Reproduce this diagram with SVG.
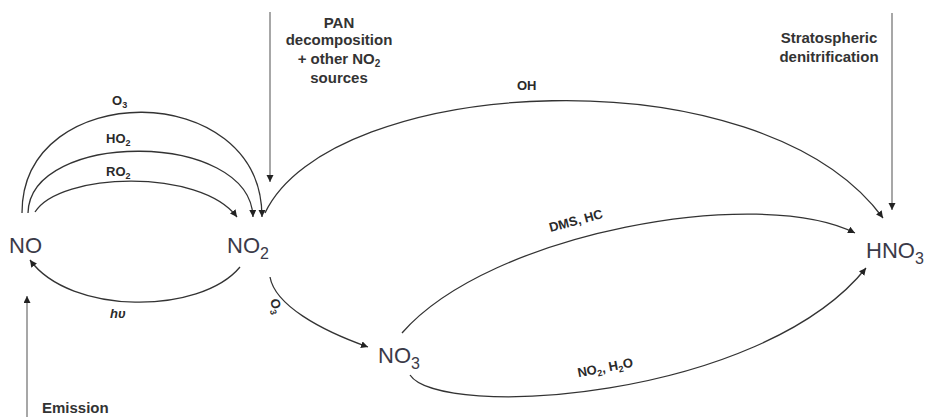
<svg xmlns="http://www.w3.org/2000/svg" width="927" height="417" viewBox="0 0 927 417">
<style>
.sp{font-family:"Liberation Sans",Arial,sans-serif;font-size:22px;fill:#3a3a48}
.lb{font-family:"Liberation Sans",Arial,sans-serif;font-weight:bold;font-size:13px;fill:#2a2a2a}
.src{font-family:"Liberation Sans",Arial,sans-serif;font-weight:bold;font-size:15px;fill:#333}
.ar{fill:none;stroke:#333;stroke-width:1.3}
.in{fill:none;stroke:#8a8a8a;stroke-width:1.5}
</style>
<defs>
<marker id="ah" markerWidth="8" markerHeight="8" refX="7" refY="3.5" orient="auto" markerUnits="userSpaceOnUse">
<path d="M0,0 L7,3.5 L0,7 Z" fill="#222"/>
</marker>
</defs>
<rect width="927" height="417" fill="#fff"/>
<g id="connectors">
<path class="ar" d="M22,213 C22,78 262,78 262,217" marker-end="url(#ah)"/>
<path class="ar" d="M28,213 C30,130 250,130 253,217" marker-end="url(#ah)"/>
<path class="ar" d="M35,212 C60,172 200,168 237,217" marker-end="url(#ah)"/>
<path class="ar" d="M265,213 C330,75 760,50 883,218" marker-end="url(#ah)"/>
<path class="ar" d="M240,267 C200,315 70,315 30,260" marker-end="url(#ah)"/>
<path class="ar" d="M270,277 C275,305 320,330 368,347" marker-end="url(#ah)"/>
<path class="ar" d="M402,333 C490,232 760,185 855,233" marker-end="url(#ah)"/>
<path class="ar" d="M410,375 C440,420 760,400 866,268" marker-end="url(#ah)"/>
<path class="in" d="M270,12 L270,182" marker-end="url(#ah)"/>
<path class="in" d="M892,13 L892,210" marker-end="url(#ah)"/>
<path class="in" d="M27,417 L27,296" marker-end="url(#ah)"/>
<text class="lb" x="112" y="105">O<tspan font-size="9" dy="3">3</tspan></text>
<text class="lb" x="106" y="143">HO<tspan font-size="9" dy="3">2</tspan></text>
<text class="lb" x="106" y="176">RO<tspan font-size="9" dy="3">2</tspan></text>
<text class="lb" x="517" y="90">OH</text>
<text class="lb" font-style="italic" font-weight="normal" font-size="14" x="110" y="318">hυ</text>
<text class="lb" transform="translate(270,300) rotate(75)">O<tspan font-size="9" dy="3">3</tspan></text>
<text class="lb" text-anchor="middle" transform="translate(577,225) rotate(-15)">DMS, HC</text>
<text class="lb" text-anchor="middle" transform="translate(606,372) rotate(-11)">NO<tspan font-size="9" dy="3">2</tspan><tspan dy="-3">, H</tspan><tspan font-size="9" dy="3">2</tspan><tspan dy="-3">O</tspan></text>
</g>
<g id="NO"><text class="sp" x="9" y="253">NO</text></g>
<g id="NO2"><text class="sp" x="227" y="253">NO<tspan font-size="16" dy="6">2</tspan></text></g>
<g id="NO3"><text class="sp" x="378" y="363">NO<tspan font-size="16" dy="6">3</tspan></text></g>
<g id="HNO3"><text class="sp" x="866" y="258">HNO<tspan font-size="16" dy="6">3</tspan></text></g>
<g id="PAN">
<text class="src" text-anchor="middle" x="339" y="28">PAN</text>
<text class="src" text-anchor="middle" x="339" y="45">decomposition</text>
<text class="src" text-anchor="middle" x="339" y="64">+ other NO<tspan font-size="10" dy="3">2</tspan></text>
<text class="src" text-anchor="middle" x="339" y="83">sources</text>
</g>
<g id="strat">
<text class="src" font-size="16" text-anchor="middle" x="829" y="43">Stratospheric</text>
<text class="src" font-size="16" text-anchor="middle" x="829" y="62">denitrification</text>
</g>
<g id="emission"><text class="src" x="42" y="413">Emission</text></g>
</svg>
